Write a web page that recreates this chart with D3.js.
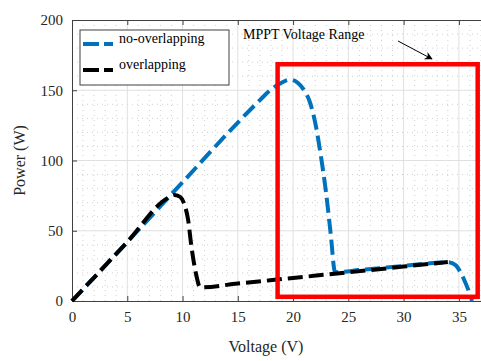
<!DOCTYPE html>
<html>
<head>
<meta charset="utf-8">
<script src="https://cdn.jsdelivr.net/npm/d3@7"></script>
<style>
  html, body { margin: 0; padding: 0; background: #fff; }
  svg { display: block; font-family: 'Liberation Serif', 'Times New Roman', serif; }
  .tick text { font-family: 'Liberation Serif', 'Times New Roman', serif; }
</style>
</head>
<body>
<svg id="chart" width="481" height="361"></svg>
<script>
// [voltage (V), power (W)]
const noOverlapping = [
  [0, 0], [5, 42], [10, 84.5], [15, 127], [17, 143], [18, 150.5], [19, 155.5],
  [19.7, 157.5], [20.4, 155.5], [21, 150], [21.5, 142], [22, 127], [22.5, 104],
  [23, 76], [23.4, 48], [23.8, 20.5], [26, 22], [30, 25], [33, 27.2], [34, 27.6],
  [34.7, 25.5], [35.3, 18], [35.8, 9], [36.2, 0]
];
const overlapping = [
  [0, 0], [5, 42], [8.7, 73.5], [9.3, 75.5], [9.8, 74], [10.2, 68], [10.5, 58],
  [10.8, 39], [11.2, 20], [11.6, 9.7], [15, 12.4], [20, 16.4], [25, 20.4],
  [30, 24.5], [34, 27.8]
];
const seriesNames = ['no-overlapping', 'overlapping'];
const seriesColors = ['#0072bd', '#000000'];
const xTicks = [0, 5, 10, 15, 20, 25, 30, 35];
const yTicks = [0, 50, 100, 150, 200];
const mpptBox = { v0: 18.6, v1: 36.7, p0: 3, p1: 168.5 };
const mpptLabel = 'MPPT Voltage Range';

const svg = d3.select('#chart');
const x = d3.scaleLinear().domain([0, 37]).range([72, 481]);
const y = d3.scaleLinear().domain([0, 200]).range([301, 20]);

// minor grid
const minorX = d3.range(1, 38).filter(v => v % 5 !== 0);
const minorY = d3.range(10, 200, 10).filter(v => v % 50 !== 0);
svg.append('g').selectAll('line').data(minorX).join('line')
  .attr('x1', d => x(d)).attr('x2', d => x(d)).attr('y1', y(0)).attr('y2', y(200))
  .attr('stroke', '#c4c4c4').attr('stroke-width', 0.8).attr('stroke-dasharray', '1,4');
svg.append('g').selectAll('line').data(minorY).join('line')
  .attr('x1', x(0)).attr('x2', 481).attr('y1', d => y(d)).attr('y2', d => y(d))
  .attr('stroke', '#c4c4c4').attr('stroke-width', 0.8).attr('stroke-dasharray', '1,4');

// major grid
svg.append('g').selectAll('line').data(xTicks.slice(1)).join('line')
  .attr('x1', d => x(d)).attr('x2', d => x(d)).attr('y1', y(0)).attr('y2', y(200))
  .attr('stroke', '#e0e0e0').attr('stroke-width', 1);
svg.append('g').selectAll('line').data(yTicks.slice(1, -1)).join('line')
  .attr('x1', x(0)).attr('x2', 481).attr('y1', d => y(d)).attr('y2', d => y(d))
  .attr('stroke', '#e0e0e0').attr('stroke-width', 1);

// axes
const styleAxis = sel => {
  sel.attr('font-family', null).attr('font-size', null);
  sel.select('.domain').attr('stroke', '#404040');
  sel.selectAll('.tick line').attr('stroke', '#404040');
  sel.selectAll('.tick text').attr('fill', '#262626').attr('font-size', '15px');
};
svg.append('g').attr('transform', `translate(0,${y(0)})`)
  .call(d3.axisBottom(x).tickValues(xTicks).tickSizeInner(-5).tickSizeOuter(0).tickPadding(10))
  .call(styleAxis);
svg.append('g').attr('transform', `translate(0,${y(200)})`)
  .call(d3.axisTop(x).tickValues(xTicks).tickSizeInner(-5).tickSizeOuter(0).tickFormat(''))
  .call(styleAxis);
svg.append('g').attr('transform', `translate(${x(0)},0)`)
  .call(d3.axisLeft(y).tickValues(yTicks).tickSizeInner(-5).tickSizeOuter(0).tickPadding(9))
  .call(styleAxis);

// curves
const line = d3.line().x(d => x(d[0])).y(d => y(d[1])).curve(d3.curveMonotoneX);
[noOverlapping, overlapping].forEach((data, i) => {
  svg.append('path').datum(data)
    .attr('fill', 'none').attr('stroke', seriesColors[i]).attr('stroke-width', 4)
    .attr('stroke-dasharray', '15,6').attr('d', line);
});

// MPPT box
svg.append('rect')
  .attr('x', x(mpptBox.v0)).attr('y', y(mpptBox.p1))
  .attr('width', x(mpptBox.v1) - x(mpptBox.v0)).attr('height', y(mpptBox.p0) - y(mpptBox.p1))
  .attr('fill', 'none').attr('stroke', '#ff0000').attr('stroke-width', 4.5);

svg.append('text').attr('x', 243).attr('y', 39)
  .attr('font-size', '14px').attr('fill', '#000').text(mpptLabel);

svg.append('defs').append('marker')
  .attr('id', 'arrow').attr('viewBox', '0 0 10 10').attr('refX', 9).attr('refY', 5)
  .attr('markerWidth', 11).attr('markerHeight', 8).attr('markerUnits', 'userSpaceOnUse')
  .attr('orient', 'auto')
  .append('path').attr('d', 'M0,0 L10,5 L0,10 L3,5 Z').attr('fill', '#000');
svg.append('line').attr('x1', 398).attr('y1', 41).attr('x2', 432).attr('y2', 59)
  .attr('stroke', '#000').attr('stroke-width', 1).attr('marker-end', 'url(#arrow)');

// legend
const legend = svg.append('g').attr('transform', 'translate(80,30)');
legend.append('rect').attr('width', 149).attr('height', 55)
  .attr('fill', '#fff').attr('stroke', '#404040').attr('stroke-width', 1);
seriesNames.forEach((name, i) => {
  const ly = 14 + i * 26;
  legend.append('line').attr('x1', 3).attr('x2', 33).attr('y1', ly).attr('y2', ly)
    .attr('stroke', seriesColors[i]).attr('stroke-width', 4).attr('stroke-dasharray', '16,5');
  legend.append('text').attr('x', 39).attr('y', ly - 1).attr('font-size', '14px')
    .attr('fill', '#000').text(name);
});

// axis titles
svg.append('text').attr('x', 266).attr('y', 352).attr('text-anchor', 'middle')
  .attr('font-size', '16px').attr('fill', '#262626').text('Voltage (V)');
svg.append('text').attr('transform', `translate(25,${y(100)}) rotate(-90)`)
  .attr('text-anchor', 'middle').attr('font-size', '16px').attr('fill', '#262626').text('Power (W)');
</script>
</body>
</html>
